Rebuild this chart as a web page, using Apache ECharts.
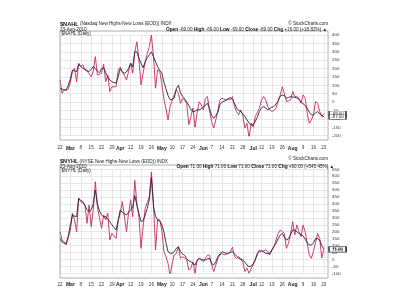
<!DOCTYPE html>
<html><head><meta charset="utf-8">
<script src="https://cdn.jsdelivr.net/npm/echarts@6/dist/echarts.min.js"></script>
<style>html,body{margin:0;padding:0;background:#fff}#c{width:400px;height:300px}</style>
</head><body><div id="c"></div>
<script>
// ---- data ----
const holidays = ['2010-04-02', '2010-05-31', '2010-07-05'];
const monthNames = ['Jan','Feb','Mar','Apr','May','Jun','Jul','Aug','Sep','Oct','Nov','Dec'];

const nahlValues = [132,53,73,70,78,120,182,202,122,232,
212,222,192,185,170,152,182,271,162,165,
172,227,122,162,63,93,90,93,190,208,
180,160,132,182,232,172,300,360,251,102,
172,240,290,331,400,271,83,192,182,110,
20,-40,-106,-26,13,45,73,53,-7,23,
10,-7,-135,-86,-36,-149,-66,3,-17,-46,
23,33,-56,-116,-155,-106,-50,13,23,18,
13,23,13,33,-26,-56,-76,-46,-80,-155,
-126,-215,-126,-150,-86,-60,-36,13,33,13,
-26,-46,-56,-50,-36,10,40,92,50,3,
8,13,63,33,33,23,-7,43,23,-66,
-126,-106,-76,3,-7,-56,-85,-69];

const nahlAvg = [83,78,73,73,100,140,190,186,182,225,
212,202,195,188,182,195,212,200,185,175,
200,205,175,150,132,122,116,114,150,200,
180,172,180,200,232,210,300,300,260,232,
205,240,265,281,300,270,240,210,190,172,
120,80,40,15,15,25,80,100,55,35,
20,0,-20,-45,-55,-55,-46,-46,-40,-30,
-17,-7,-40,-80,-96,-80,-60,-15,0,5,
12,18,28,15,-7,-35,-50,-56,-70,-85,
-106,-125,-135,-135,-115,-90,-55,-35,-26,-35,
-46,-38,-30,-26,-10,5,35,42,37,25,
28,33,30,29,25,18,3,-10,-20,-36,
-60,-76,-76,-65,-56,-70,-80,-87];

const nyhlValues = [200,140,128,104,160,212,333,285,200,441,
417,405,393,260,393,236,357,560,380,300,
224,320,285,333,140,188,170,152,280,333,
417,308,200,333,429,308,570,405,308,80,
236,369,410,453,630,405,68,285,285,212,
60,20,-30,-115,-28,32,44,92,8,20,
10,-4,-76,-64,-16,-100,-4,8,-4,-16,
8,32,30,-40,-88,-40,8,32,44,32,
38,44,56,88,20,8,20,-4,-16,-88,
-64,-100,-64,-40,-4,44,68,56,62,68,
56,32,68,92,140,188,212,200,188,80,
116,188,272,176,248,200,164,248,200,116,
32,8,60,120,188,150,11,71];

const nyhlAvg = [152,125,116,116,170,250,320,312,308,441,
425,417,390,360,345,357,400,500,400,350,
320,308,308,290,272,250,230,212,280,357,
340,330,320,340,357,380,460,390,330,272,
280,320,369,430,590,380,310,285,280,250,
200,120,56,45,44,56,80,90,56,40,
30,5,-10,-16,-30,-40,-10,8,0,-4,
-4,5,8,-30,-40,-16,20,40,56,50,
44,44,50,56,40,25,8,2,-4,-20,
-40,-52,-48,-30,0,40,56,63,55,44,
44,44,68,95,116,150,175,188,160,140,
150,180,212,212,200,188,180,170,145,120,
104,104,120,150,150,140,100,75];

const nahlAxis = {min: -200, max: 400, step: 50};
const nyhlAxis = {min: -100, max: 650, step: 50};

// ---- trading day categories ----
const days = [];
for (let d = new Date(Date.UTC(2010, 1, 22)); d <= new Date(Date.UTC(2010, 7, 23)); d.setUTCDate(d.getUTCDate() + 1)) {
  const dow = d.getUTCDay();
  const iso = d.toISOString().slice(0, 10);
  if (dow === 0 || dow === 6 || holidays.includes(iso)) continue;
  days.push({iso, dow, m: d.getUTCMonth(), day: d.getUTCDate()});
}
const weekLabel = {};
let prevMonth = -1;
days.forEach((d, i) => {
  if (i === 0 || d.dow < days[i - 1].dow) {
    if (i === 0) weekLabel[i] = String(d.day);
    else if (d.m !== prevMonth) weekLabel[i] = '{m|' + monthNames[d.m] + '}';
    else weekLabel[i] = String(d.day);
    prevMonth = d.m;
  }
});
const categories = days.map(d => d.iso).concat(['pad1', 'pad2']);
const isWeek = (i) => weekLabel[i] !== undefined;

const RED = '#c8285e', DARK = '#23233f';
const FONT = 'Liberation Sans, Arial, sans-serif';

function xAxisCfg(gi, margin) {
  return {
    type: 'category', gridIndex: gi, data: categories, boundaryGap: false,
    axisLine: {show: false}, axisTick: {show: false},
    axisLabel: {
      interval: (i) => isWeek(i), margin: margin,
      formatter: (v, i) => weekLabel[i] || '',
      fontSize: 4.6, color: '#333', fontFamily: FONT,
      rich: {m: {fontWeight: 'bold', fontSize: 5, color: '#222', fontFamily: FONT}}
    },
    splitLine: {show: true, interval: (i) => isWeek(i), lineStyle: {color: '#e1e1e1', width: 0.8}}
  };
}
function yAxisCfg(gi, ax) {
  return {
    type: 'value', gridIndex: gi, position: 'right', min: ax.min, max: ax.max, interval: ax.step,
    axisLine: {show: false}, axisTick: {show: false},
    axisLabel: {margin: 4, fontSize: 4.4, color: '#333', fontFamily: FONT},
    splitLine: {lineStyle: {color: '#e1e1e1', width: 0.8}}
  };
}
function tag(v, color) {
  return {
    symbol: 'rect', symbolSize: [17, 5.2], symbolOffset: [9.5, 0], silent: true,
    itemStyle: {color: '#fff', borderColor: color, borderWidth: 0.8},
    label: {show: true, position: 'inside', color: '#111', fontSize: 4.4, fontFamily: FONT, formatter: v.toFixed(2)},
    data: [{coord: [categories.length - 1, v]}]
  };
}
function lineSeries(data, gi, color, tagColor) {
  return {
    type: 'line', data: data, xAxisIndex: gi, yAxisIndex: gi, symbol: 'none', silent: true,
    lineStyle: {color: color, width: 0.9}, animation: false,
    markPoint: tag(data[data.length - 1], tagColor)
  };
}
function txt(text, x, y, align, rich) {
  return {type: 'text', x: x, y: y, silent: true, z: 100,
    style: {text: text, fill: '#222', font: '4.6px ' + FONT, align: align, verticalAlign: 'middle',
      rich: rich || {}}};
}
const bRich = {b: {fontWeight: 'bold', fontSize: 5.6, fontFamily: FONT, fill: '#111'}};
const sRich = {b: {fontWeight: 'bold', fontSize: 4.8, fontFamily: FONT, fill: '#111'}, n: {fontSize: 4.6, fontFamily: FONT, fill: '#222'}};

const chart = echarts.init(document.getElementById('c'), null, {renderer: 'canvas'});
chart.setOption({
  animation: false,
  backgroundColor: '#fff',
  grid: [
    {left: 60, right: 72, top: 35, height: 100.7},
    {left: 60, right: 72, top: 169.3, height: 104}
  ],
  xAxis: [xAxisCfg(0, 10), xAxisCfg(1, 9)],
  yAxis: [yAxisCfg(0, nahlAxis), yAxisCfg(1, nyhlAxis)],
  series: [
    lineSeries(nahlValues, 0, RED, DARK),
    lineSeries(nahlAvg, 0, DARK, DARK),
    lineSeries(nyhlValues, 1, RED, DARK),
    lineSeries(nyhlAvg, 1, DARK, DARK)
  ],
  graphic: [
    {type: 'rect', shape: {x: 60, y: 31, width: 268, height: 109}, style: {fill: 'none', stroke: '#9a9a9a', lineWidth: 0.8}, silent: true, z: 90},
    {type: 'rect', shape: {x: 60, y: 165, width: 268, height: 113}, style: {fill: 'none', stroke: '#9a9a9a', lineWidth: 0.8}, silent: true, z: 90},
    txt('{b|$NAHL} (Nasdaq New Highs-New Lows (EOD)) INDX', 60, 24, 'left', bRich),
    txt('23-Aug-2010', 60, 29.5, 'left'),
    txt('{b|Open} -69.00 {b|High} -69.00 {b|Low} -69.00 {b|Close} -69.00 {b|Chg} +16.00 (+18.82%) ▲', 327, 29.5, 'right', sRich),
    txt('© StockCharts.com', 328, 23.5, 'right'),
    txt('$NAHL (Daily)', 61.5, 34, 'left'),
    txt('{b|$NYHL} (NYSE New Highs-New Lows (EOD)) INDX', 60, 161.5, 'left', bRich),
    txt('23-Aug-2010', 60, 166.3, 'left'),
    txt('{b|Open} 71.00 {b|High} 71.00 {b|Low} 71.00 {b|Close} 71.00 {b|Chg} +60.00 (+545.45%) ▲', 334, 166.3, 'right', sRich),
    txt('© StockCharts.com', 328, 159, 'right'),
    txt('$NYHL (Daily)', 61.5, 170.5, 'left')
  ]
});
</script></body></html>
